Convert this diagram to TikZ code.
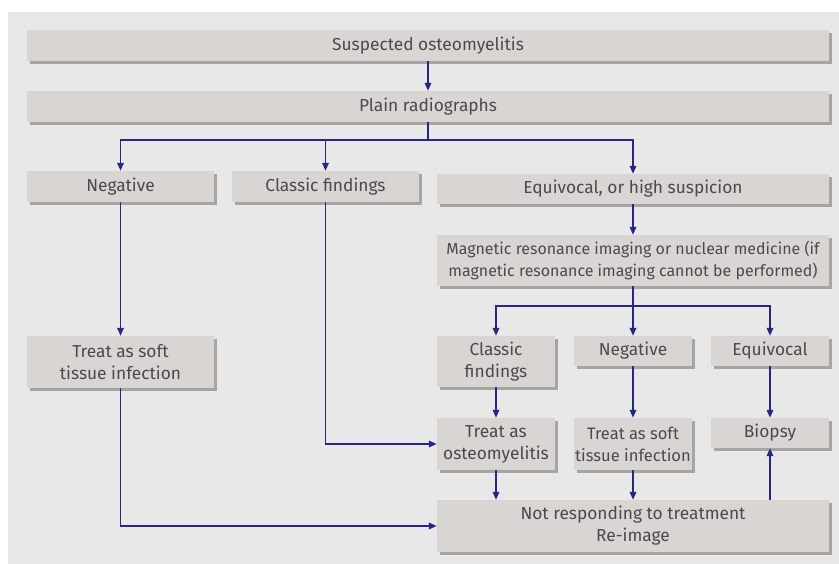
\documentclass[tikz,border=0pt]{standalone}
\usepackage{fontspec}
\setmainfont{Fira Sans}
\usetikzlibrary{arrows.meta,shadows}
\definecolor{panelgray}{HTML}{E8E8E8}
\definecolor{boxgray}{HTML}{D9D5D2}
\definecolor{shadowgray}{HTML}{A8A4A2}
\definecolor{textgray}{HTML}{4A4A4A}
\definecolor{arrowblue}{HTML}{262685}
\tikzset{
  box/.style={fill=boxgray, inner sep=0pt, align=center, text=textgray,
    font=\fontsize{17.4}{22}\selectfont,
    drop shadow={shadow xshift=3bp, shadow yshift=-3bp, fill=shadowgray, opacity=1}},
  arr/.style={draw=arrowblue, line width=1.8bp, -{Triangle[length=8bp,width=6.5bp]}},
  ln/.style={draw=arrowblue, line width=1.8bp}
}
\begin{document}
\begin{tikzpicture}[x=1bp,y=-1bp]
\useasboundingbox (0,0) rectangle (839,564);
\fill[panelgray] (8,12) rectangle (839,564);
\node[box, minimum width=802bp, minimum height=31bp] (sus) at (428,45.5) {Suspected osteomyelitis};
\node[box, minimum width=802bp, minimum height=31bp] (plain) at (428,106.5) {Plain radiographs};
\node[box, minimum width=187bp, minimum height=31bp] (neg1) at (120.5,186.5) {Negative};
\node[box, minimum width=187bp, minimum height=31bp] (cls1) at (325.5,186.5) {Classic findings};
\node[box, minimum width=392bp, minimum height=30bp] (eqv1) at (633,189) {Equivocal, or high suspicion};
\node[box, minimum width=392bp, minimum height=51bp, font=\fontsize{16}{22}\selectfont] (mri) at (633,260.5) {Magnetic resonance imaging or nuclear medicine (if\\magnetic resonance imaging cannot be performed)};
\node[box, minimum width=118bp, minimum height=51bp] (cls2) at (496,361.5) {Classic\\findings};
\node[box, minimum width=118bp, minimum height=30bp] (neg2) at (633,351) {Negative};
\node[box, minimum width=118bp, minimum height=30bp] (eqv2) at (770,351) {Equivocal};
\node[box, minimum width=118bp, minimum height=52bp] (tro) at (496,444) {Treat as\\osteomyelitis};
\node[box, minimum width=118bp, minimum height=52bp, font=\fontsize{16.6}{22}\selectfont] (tst2) at (633,444) {Treat as soft\\tissue infection};
\node[box, minimum width=118bp, minimum height=30bp] (bio) at (770,433) {Biopsy};
\node[box, minimum width=392bp, minimum height=52bp] (nr) at (633,526) {Not responding to treatment\\Re-image};
\node[box, minimum width=187bp, minimum height=52bp] (tst1) at (120.5,362) {Treat as soft\\tissue infection};
\coordinate (b1) at (428,140);
\coordinate (b2) at (633,306);
\draw[arr] (sus.south) -- (plain.north);
\draw[ln] (plain.south) -- (b1);
\draw[arr] (b1) -| (neg1.north);
\draw[arr] (b1) -| (cls1.north);
\draw[arr] (b1) -| (eqv1.north);
\draw[arr] (eqv1.south) -- (mri.north);
\draw[ln] (mri.south) -- (b2);
\draw[arr] (b2) -| (cls2.north);
\draw[arr] (b2) -- (neg2.north);
\draw[arr] (b2) -| (eqv2.north);
\draw[arr] (cls2.south) -- (tro.north);
\draw[arr] (neg2.south) -- (tst2.north);
\draw[arr] (eqv2.south) -- (bio.north);
\draw[arr] (tro.south) -- (tro.south |- nr.north);
\draw[arr] (tst2.south) -- (tst2.south |- nr.north);
\draw[arr] (nr.north -| bio.south) -- (bio.south);
\draw[arr] (neg1.south) -- (tst1.north);
\draw[arr] (cls1.south) |- (tro.west);
\draw[arr] (tst1.south) |- (nr.west);
\end{tikzpicture}
\end{document}
